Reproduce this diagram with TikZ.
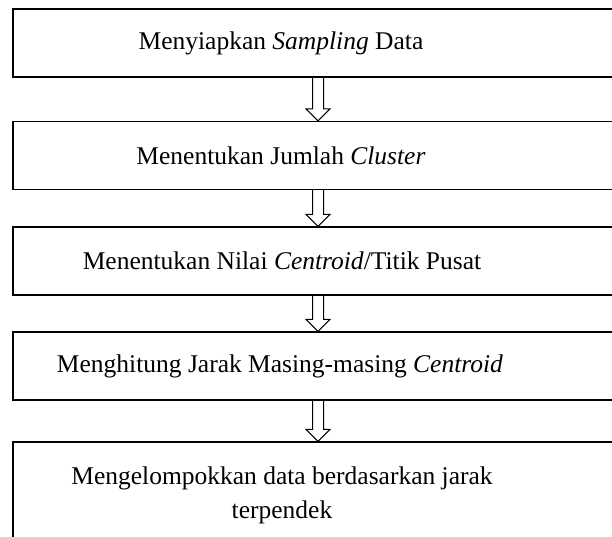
\documentclass[tikz,border=0pt]{standalone}
\usepackage{fontspec}
\setmainfont{Liberation Serif}
\usepackage{tikz}
\usetikzlibrary{calc,positioning}

% hollow block arrow from the bottom of one box to the top of the next
\newcommand{\flowdown}[2]{%
	\draw[hollow] ($(#1.south)+(-5.5,0)$) -- ($(#2.north)+(-5.5,12)$) -- ++(-6.5,0) -- (#2.north) -- ++(12,12) -- ++(-6.5,0) -- ($(#1.south)+(5.5,0)$);}

\begin{document}
\begin{tikzpicture}[x=1pt,y=1pt,
		flowbox/.style={draw,line width=1.2pt,minimum width=610pt,minimum height=68pt,inner sep=0pt},
		txt/.style={inner sep=0pt,font=\fontsize{25.5}{34}\selectfont,align=center},
		hollow/.style={line width=1pt,line join=miter}]
		\useasboundingbox (0,0) rectangle (612,537);
		\clip (0,0) rectangle (612,537);
		\foreach \n/\y in {1/494,2/381.5,3/276,4/171}
		\node[flowbox] (b\n) at (318,\y) {};
		\node[flowbox,minimum height=120pt] (b5) at (318,35) {};
		%		box texts
		\node[txt,xshift=-37] (t1) at (b1) {Menyiapkan \textit{Sampling} Data};
		\node[txt,xshift=-37] (t2) at (b2) {Menentukan Jumlah \textit{Cluster}};
		\node[txt,xshift=-36] (t3) at (b3) {Menentukan Nilai \textit{Centroid}/Titik Pusat};
		\node[txt,xshift=-38] (t4) at (b4) {Menghitung Jarak Masing-masing \textit{Centroid}};
		\node[txt] (t5) at ($(b5.north)+(-36,-54)$) {Mengelompokkan data berdasarkan jarak\\terpendek};
		\foreach \a/\b in {b1/b2,b2/b3,b3/b4,b4/b5}
		{\flowdown{\a}{\b}}
	\end{tikzpicture}
\end{document}
